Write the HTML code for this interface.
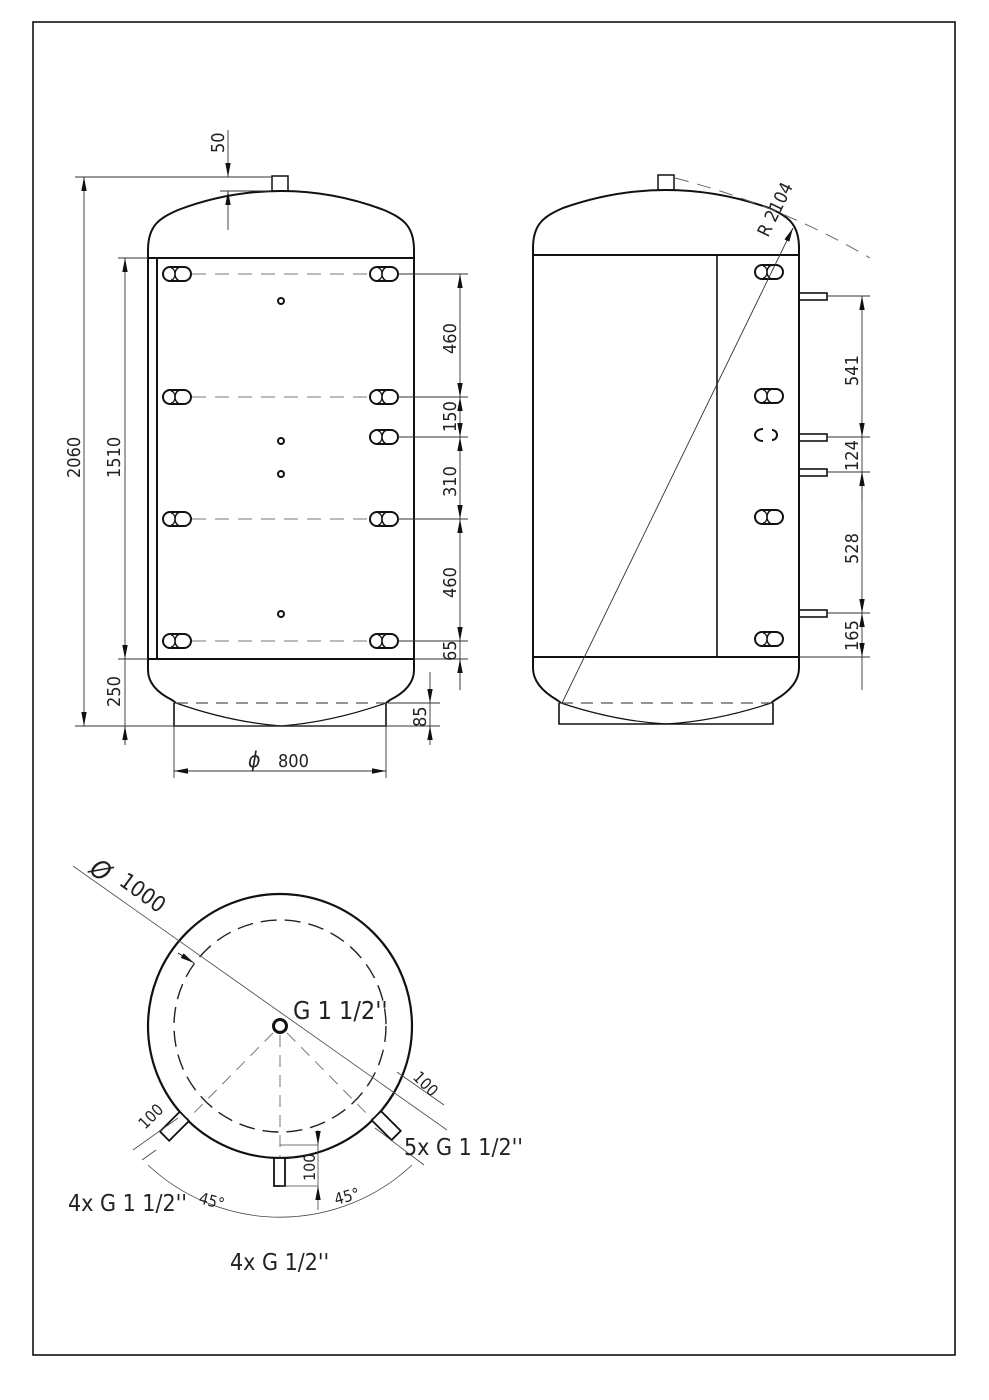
<!DOCTYPE html>
<html><head><meta charset="utf-8"><style>
html,body{margin:0;padding:0;background:#fff}
svg{display:block}
text{font-family:"DejaVu Sans Condensed","Liberation Sans",sans-serif;fill:#222}
</style></head><body>
<svg width="989" height="1400" viewBox="0 0 989 1400" xmlns="http://www.w3.org/2000/svg">
<defs>
<g id="port"><rect x="-14" y="-7" width="28" height="14" rx="7" fill="#fff" stroke="#111" stroke-width="2"/><path d="M4,-7 A6,7 0 0 0 4,7" fill="none" stroke="#111" stroke-width="1.5"/><path d="M-6,-6 A4,6 0 0 1 -6,6" fill="none" stroke="#111" stroke-width="1.2"/></g>
<marker id="a" viewBox="0 0 14 6" refX="14" refY="3" markerWidth="14" markerHeight="6" markerUnits="userSpaceOnUse" orient="auto-start-reverse"><path d="M0,0.3 L14,3 L0,5.7z" fill="#111"/></marker>
</defs>
<rect x="33" y="22" width="922" height="1333" fill="none" stroke="#111" stroke-width="1.6"/>

<!-- LEFT TANK -->
<g fill="none" stroke="#111" stroke-width="2">
<rect x="272" y="176" width="16" height="15" stroke-width="1.5"/>
<path d="M148,670 L148,250 C148,225 160,218 178,210 C215,196 250,191 281,191 C312,191 347,196 384,210 C402,218 414,225 414,250 L414,670 Q414,688 390,700 L386,703"/>
<path d="M148,670 Q148,688 172,700 L176,703"/>
<line x1="148" y1="258" x2="414" y2="258"/>
<line x1="148" y1="659" x2="414" y2="659"/>
<line x1="157" y1="258" x2="157" y2="659"/>
<path d="M174,703 L174,726 L386,726 L386,703" stroke-width="1.6"/>
<path d="M176,703 Q230,722 281,726 Q332,722 386,703" stroke-width="1.2"/>
</g>
<line x1="176" y1="703" x2="386" y2="703" stroke="#555" stroke-width="1.2" stroke-dasharray="12,8"/>
<g stroke="#777" stroke-width="1" stroke-dasharray="14,9">
<line x1="192" y1="274" x2="368" y2="274"/><line x1="192" y1="397" x2="368" y2="397"/>
<line x1="192" y1="519" x2="368" y2="519"/><line x1="192" y1="641" x2="368" y2="641"/>
</g>
<g><use href="#port" x="177" y="274"/><use href="#port" x="384" y="274"/>
<use href="#port" x="177" y="397"/><use href="#port" x="384" y="397"/>
<use href="#port" x="384" y="437"/>
<use href="#port" x="177" y="519"/><use href="#port" x="384" y="519"/>
<use href="#port" x="177" y="641"/><use href="#port" x="384" y="641"/></g>
<g fill="none" stroke="#111" stroke-width="2"><circle cx="281" cy="301" r="3"/><circle cx="281" cy="441" r="3"/><circle cx="281" cy="474" r="3"/><circle cx="281" cy="614" r="3"/></g>

<!-- left dims -->
<g stroke="#333" stroke-width="0.9" fill="none">
<line x1="75" y1="177" x2="272" y2="177"/>
<line x1="75" y1="726" x2="440" y2="726"/>
<line x1="84" y1="177" x2="84" y2="726" marker-start="url(#a)" marker-end="url(#a)"/>
<line x1="118" y1="258" x2="148" y2="258"/>
<line x1="118" y1="659" x2="148" y2="659"/>
<line x1="125" y1="258" x2="125" y2="659" marker-start="url(#a)" marker-end="url(#a)"/>
<line x1="125" y1="659" x2="125" y2="745"/>
<line x1="125" y1="745" x2="125" y2="726" marker-end="url(#a)"/>
<line x1="228" y1="130" x2="228" y2="177" marker-end="url(#a)"/>
<line x1="228" y1="230" x2="228" y2="191" marker-end="url(#a)"/>
<line x1="220" y1="191" x2="272" y2="191"/>
<line x1="398" y1="274" x2="468" y2="274"/><line x1="398" y1="397" x2="468" y2="397"/>
<line x1="398" y1="437" x2="468" y2="437"/><line x1="398" y1="519" x2="468" y2="519"/>
<line x1="398" y1="641" x2="468" y2="641"/><line x1="414" y1="659" x2="468" y2="659"/>
<line x1="460" y1="274" x2="460" y2="397" marker-start="url(#a)" marker-end="url(#a)"/>
<line x1="460" y1="397" x2="460" y2="437" marker-start="url(#a)" marker-end="url(#a)"/>
<line x1="460" y1="437" x2="460" y2="519" marker-start="url(#a)" marker-end="url(#a)"/>
<line x1="460" y1="519" x2="460" y2="641" marker-start="url(#a)" marker-end="url(#a)"/>
<line x1="460" y1="641" x2="460" y2="690"/>
<line x1="460" y1="690" x2="460" y2="659" marker-end="url(#a)"/>
<line x1="388" y1="703" x2="440" y2="703"/>
<line x1="430" y1="672" x2="430" y2="703" marker-end="url(#a)"/>
<line x1="430" y1="745" x2="430" y2="726" marker-end="url(#a)"/>
<line x1="430" y1="703" x2="430" y2="726"/>
<line x1="174" y1="726" x2="174" y2="778"/><line x1="386" y1="726" x2="386" y2="778"/>
<line x1="174" y1="771" x2="386" y2="771" marker-start="url(#a)" marker-end="url(#a)"/>
</g>
<g font-size="18">
<text transform="translate(224,153) rotate(-90)">50</text>
<text transform="translate(80,478) rotate(-90)">2060</text>
<text transform="translate(120,478) rotate(-90)">1510</text>
<text transform="translate(120,707) rotate(-90)">250</text>
<text transform="translate(456,354) rotate(-90)">460</text>
<text transform="translate(456,432) rotate(-90)">150</text>
<text transform="translate(456,497) rotate(-90)">310</text>
<text transform="translate(456,598) rotate(-90)">460</text>
<text transform="translate(456,661) rotate(-90)">65</text>
<text transform="translate(426,727) rotate(-90)">85</text>
<text x="248" y="767" font-size="21" font-style="italic">ϕ</text>
<text x="278" y="767">800</text>
</g>

<!-- RIGHT TANK -->
<g fill="none" stroke="#111" stroke-width="2">
<rect x="658" y="175" width="16" height="15" stroke-width="1.5"/>
<path d="M533,668 L533,248 C533,223 545,216 563,208 C600,195 635,190 666,190 C697,190 732,195 769,208 C787,216 799,223 799,248 L799,668 Q799,686 775,700 L771,703"/>
<path d="M533,668 Q533,686 557,700 L561,703"/>
<line x1="533" y1="255" x2="799" y2="255"/>
<line x1="533" y1="657" x2="799" y2="657"/>
<line x1="717" y1="255" x2="717" y2="657" stroke-width="1.6"/>
<path d="M559,703 L559,724 L773,724 L773,703" stroke-width="1.6"/>
<path d="M561,703 Q615,721 666,724 Q717,721 771,703" stroke-width="1.2"/>
<g stroke-width="1.6"><rect x="799" y="293" width="28" height="7"/><rect x="799" y="434" width="28" height="7"/><rect x="799" y="469" width="28" height="7"/><rect x="799" y="610" width="28" height="7"/></g>
</g>
<line x1="561" y1="703" x2="771" y2="703" stroke="#555" stroke-width="1.2" stroke-dasharray="12,8"/>
<g><use href="#port" x="769" y="272"/><use href="#port" x="769" y="396"/><use href="#port" x="769" y="517"/><use href="#port" x="769" y="639"/></g>
<g fill="none" stroke="#111" stroke-width="2"><path d="M763,429 A8,6 0 1 0 763,441"/><path d="M772,430 A5,5 0 0 1 777,435 A5,5 0 0 1 772,440"/></g>
<path d="M675,178 Q780,205 870,258" fill="none" stroke="#666" stroke-width="1" stroke-dasharray="14,9"/>
<line x1="562" y1="703" x2="793" y2="228" stroke="#333" stroke-width="0.9" marker-end="url(#a)"/>
<text transform="translate(768,238) rotate(-64)" font-size="18">R 2104</text>
<g stroke="#333" stroke-width="0.9" fill="none">
<line x1="827" y1="296" x2="870" y2="296"/><line x1="827" y1="437" x2="870" y2="437"/>
<line x1="827" y1="472" x2="870" y2="472"/><line x1="827" y1="613" x2="870" y2="613"/>
<line x1="799" y1="657" x2="870" y2="657"/>
<line x1="862" y1="296" x2="862" y2="437" marker-start="url(#a)" marker-end="url(#a)"/>
<line x1="862" y1="500" x2="862" y2="472" marker-end="url(#a)"/>
<line x1="862" y1="437" x2="862" y2="472"/>
<line x1="862" y1="472" x2="862" y2="613" marker-start="url(#a)" marker-end="url(#a)"/>
<line x1="862" y1="613" x2="862" y2="657" marker-start="url(#a)" marker-end="url(#a)"/>
<line x1="862" y1="657" x2="862" y2="690"/>
</g>
<g font-size="18">
<text transform="translate(858,386) rotate(-90)">541</text>
<text transform="translate(858,471) rotate(-90)">124</text>
<text transform="translate(858,564) rotate(-90)">528</text>
<text transform="translate(858,651) rotate(-90)">165</text>
</g>

<!-- PLAN VIEW -->
<circle cx="280" cy="1026" r="132" fill="none" stroke="#111" stroke-width="2.2"/>
<circle cx="280" cy="1026" r="106" fill="none" stroke="#222" stroke-width="1.4" stroke-dasharray="16,8"/>
<circle cx="280" cy="1026" r="6.5" fill="none" stroke="#111" stroke-width="3"/>
<line x1="73" y1="866" x2="447" y2="1130" stroke="#555" stroke-width="0.9"/>
<path d="M178,953 L194,963" stroke="#111" stroke-width="1" marker-end="url(#a)"/>
<g stroke="#777" stroke-width="1" stroke-dasharray="12,8" fill="none">
<line x1="273" y1="1033" x2="170" y2="1137"/>
<line x1="287" y1="1033" x2="390" y2="1137"/>
<line x1="280" y1="1035" x2="280" y2="1195"/>
</g>
<g fill="#fff" stroke="#111" stroke-width="1.8">
<rect x="274" y="1158" width="11" height="28"/>
<rect x="-6" y="0" width="13" height="28" transform="translate(184,1116) rotate(45)"/>
<rect x="-6" y="0" width="13" height="28" transform="translate(376,1116) rotate(-45)"/>
</g>
<g stroke="#444" stroke-width="0.8" fill="none">
<path d="M148,1165 A193,193 0 0 0 412,1165"/>
<line x1="133" y1="1150" x2="178" y2="1118"/>
<line x1="142" y1="1160" x2="156" y2="1150"/>
<line x1="397" y1="1072" x2="444" y2="1105"/>
<line x1="375" y1="1128" x2="424" y2="1165"/>
<line x1="280" y1="1145" x2="318" y2="1145"/>
<line x1="280" y1="1186" x2="318" y2="1186"/>
<line x1="318" y1="1130" x2="318" y2="1145" marker-end="url(#a)"/>
<line x1="318" y1="1210" x2="318" y2="1186" marker-end="url(#a)"/>
<line x1="318" y1="1145" x2="318" y2="1186"/>
</g>
<g font-size="17">
<text x="293" y="1019" font-size="25">G 1 1/2''</text>
<text x="404" y="1155" font-size="23">5x G 1 1/2''</text>
<text x="68" y="1211" font-size="23">4x G 1 1/2''</text>
<text x="230" y="1270" font-size="23">4x G 1/2''</text>
<text transform="translate(88,872) rotate(36)" font-size="26" font-style="italic">Ø</text>
<text transform="translate(118,884) rotate(36)" font-size="22">1000</text>
<text transform="translate(145,1130) rotate(-45)" font-size="16">100</text>
<text transform="translate(412,1078) rotate(45)" font-size="16">100</text>
<text transform="translate(315,1181) rotate(-90)" font-size="16">100</text>
<text transform="translate(198,1203) rotate(15)" font-size="16">45°</text>
<text transform="translate(336,1205) rotate(-15)" font-size="16">45°</text>
</g>
</svg>
</body></html>
